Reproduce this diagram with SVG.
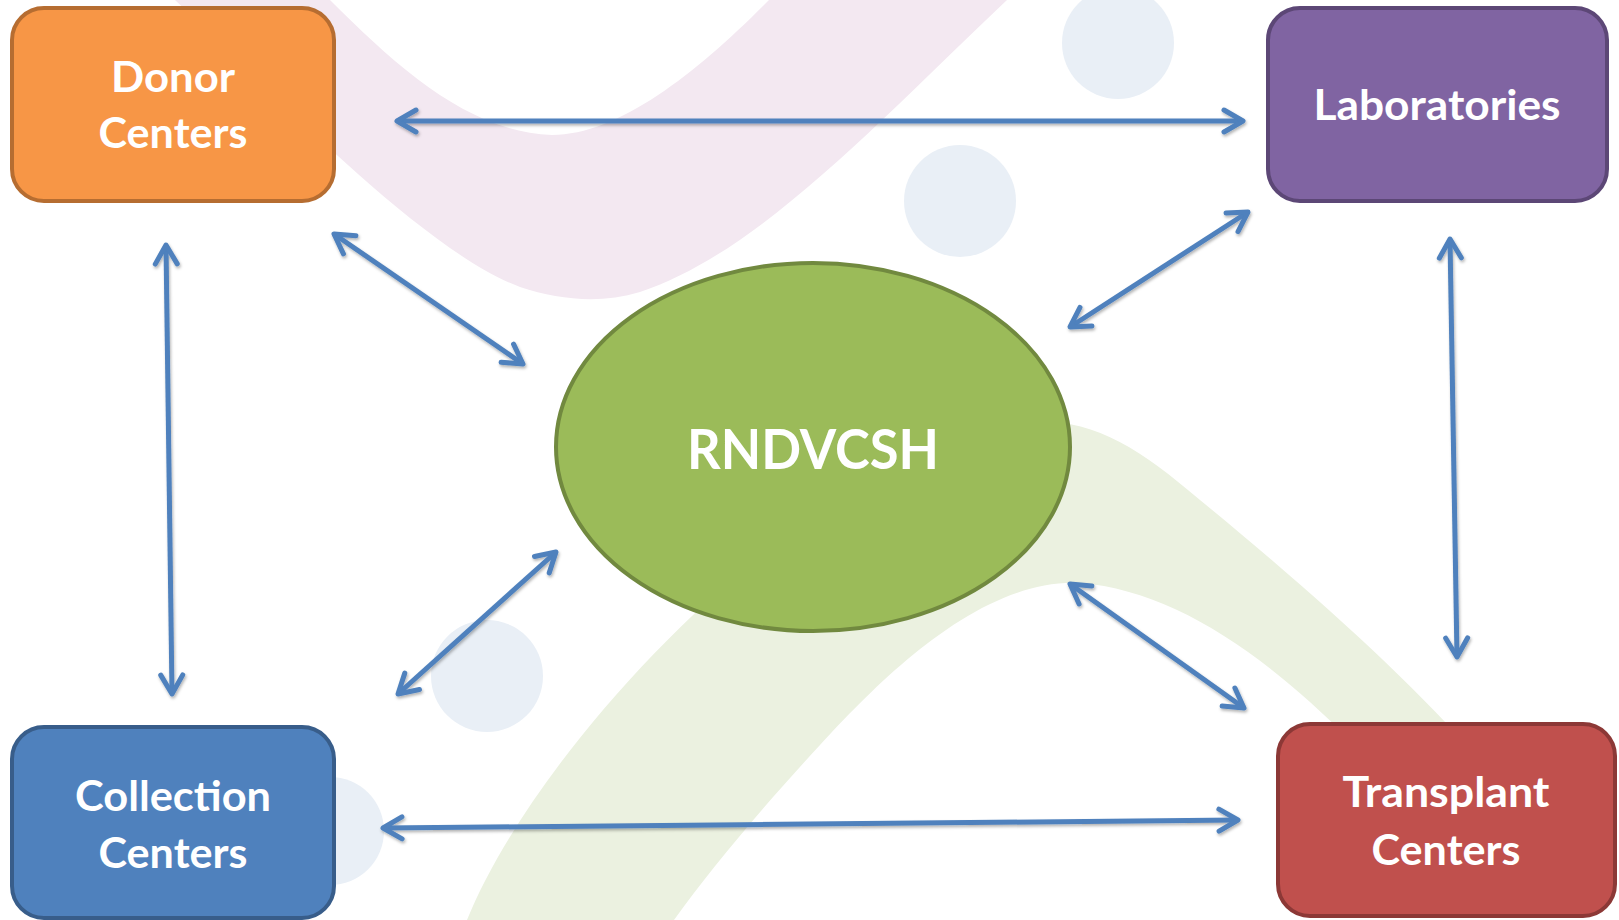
<svg xmlns="http://www.w3.org/2000/svg" width="1619" height="920" viewBox="0 0 1619 920">
  <style>
    .lbl { font-family: Lato, "Liberation Sans", sans-serif; font-weight: bold; fill: #FFFFFF; text-anchor: middle; }
    .box { stroke-width: 4; }
    .conn { fill: none; stroke: #4F81BD; stroke-width: 5; marker-start: url(#ah); marker-end: url(#ah); }
    .dot { fill: #E9EFF6; }
  </style>
  <defs>
    <marker id="ah" markerUnits="userSpaceOnUse" orient="auto-start-reverse" refX="0" refY="0" markerWidth="40" markerHeight="40" viewBox="-20 -20 40 40" overflow="visible">
      <path d="M -19 -11 L 0 0 L -19 11" fill="none" stroke="#4F81BD" stroke-width="5" stroke-linecap="round" stroke-linejoin="round"/>
    </marker>
    <filter id="sh" x="-10%" y="-10%" width="120%" height="120%">
      <feDropShadow dx="1" dy="2" stdDeviation="1.5" flood-color="#000000" flood-opacity="0.3"/>
    </filter>
  </defs>
  <rect x="0" y="0" width="1619" height="920" fill="#FFFFFF"/>
  <g id="background">
    <path d="M 175 0 C 260 80 420 250 520 287 C 560 300 600 304 640 292 C 760 252 880 120 1007 0 L 769 0 C 700 70 620 135 552 135 C 470 132 400 70 330 0 Z" fill="#F3E8F1"/>
    <path d="M 467 920 C 540 740 800 470 1000 425 C 1080 410 1130 440 1200 500 C 1310 590 1410 680 1480 760 L 1350 740 C 1260 650 1170 590 1080 583 C 980 578 880 680 820 745 C 760 810 710 870 674 920 Z" fill="#EBF1E0"/>
    <circle class="dot" cx="1118" cy="43" r="56"/>
    <circle class="dot" cx="960" cy="201" r="56"/>
    <circle class="dot" cx="487" cy="676" r="56"/>
    <circle class="dot" cx="330" cy="831" r="54"/>
  </g>
  <g id="node-donor">
    <rect class="box" x="12" y="8" width="322" height="193" rx="32" ry="32" fill="#F79646" stroke="#B66D31"/>
    <text class="lbl" x="173" y="92" font-size="42" textLength="124" lengthAdjust="spacingAndGlyphs">Donor</text>
    <text class="lbl" x="173" y="148" font-size="42" textLength="149" lengthAdjust="spacingAndGlyphs">Centers</text>
  </g>
  <g id="node-labs">
    <rect class="box" x="1268" y="8" width="339" height="193" rx="32" ry="32" fill="#8064A2" stroke="#5C4776"/>
    <text class="lbl" x="1437" y="120" font-size="42" textLength="247" lengthAdjust="spacingAndGlyphs">Laboratories</text>
  </g>
  <g id="node-collection">
    <rect class="box" x="12" y="727" width="322" height="191" rx="32" ry="32" fill="#4F81BD" stroke="#385D8A"/>
    <text class="lbl" x="173" y="811" font-size="42" textLength="196" lengthAdjust="spacingAndGlyphs">Collection</text>
    <text class="lbl" x="173" y="868" font-size="42" textLength="149" lengthAdjust="spacingAndGlyphs">Centers</text>
  </g>
  <g id="node-transplant">
    <rect class="box" x="1278" y="724" width="337" height="192" rx="32" ry="32" fill="#C0504D" stroke="#8C3836"/>
    <text class="lbl" x="1446" y="807" font-size="42" textLength="207" lengthAdjust="spacingAndGlyphs">Transplant</text>
    <text class="lbl" x="1446" y="865" font-size="42" textLength="149" lengthAdjust="spacingAndGlyphs">Centers</text>
  </g>
  <g id="node-rndvcsh">
    <ellipse cx="813" cy="447" rx="257" ry="184" fill="#9BBB59" stroke="#71893F" stroke-width="4"/>
    <text class="lbl" x="813" y="469" font-size="55" textLength="252" lengthAdjust="spacingAndGlyphs">RNDVCSH</text>
  </g>
  <g id="connectors" filter="url(#sh)">
    <line class="conn" x1="397" y1="121" x2="1243" y2="121"/>
    <line class="conn" x1="334" y1="234" x2="523" y2="364"/>
    <line class="conn" x1="1248" y1="212" x2="1070" y2="327"/>
    <line class="conn" x1="166" y1="245" x2="172" y2="694"/>
    <line class="conn" x1="556" y1="552" x2="398" y2="694"/>
    <line class="conn" x1="1450" y1="239" x2="1457" y2="657"/>
    <line class="conn" x1="1070" y1="584" x2="1244" y2="708"/>
    <line class="conn" x1="383" y1="828" x2="1238" y2="820"/>
  </g>
</svg>
